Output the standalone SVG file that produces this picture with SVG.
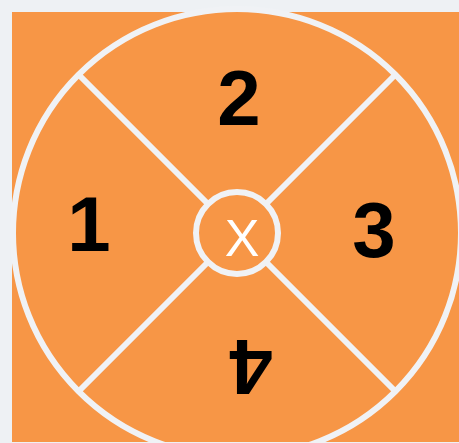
<svg xmlns="http://www.w3.org/2000/svg" width="459" height="443" viewBox="0 0 459 443">
<style>
.ln{stroke:#f0f2f5;stroke-width:6;fill:none}
.num{font-family:"Liberation Sans",Arial,sans-serif;font-weight:bold;font-size:78px;fill:#000;text-anchor:middle}
</style>
<rect x="0" y="0" width="459" height="443" fill="#eef1f4"/>
<rect x="12" y="12" width="447" height="430" fill="#f79646"/>
<g id="connectors">
<line class="ln" x1="78" y1="74" x2="208" y2="204"/>
<line class="ln" x1="396" y1="74" x2="266" y2="204"/>
<line class="ln" x1="78" y1="392" x2="208" y2="262"/>
<line class="ln" x1="396" y1="392" x2="266" y2="262"/>
</g>
<g id="outer"><circle class="ln" cx="237" cy="233" r="224"/></g>
<g id="center"><circle class="ln" cx="237" cy="233" r="41"/>
<text x="242" y="256" font-family="Liberation Sans, Arial, sans-serif" font-size="52" fill="#fff" text-anchor="middle">X</text></g>
<g id="n1"><text class="num" x="89" y="251">1</text></g>
<g id="n2"><text class="num" x="239" y="125">2</text></g>
<g id="n3"><text class="num" x="374" y="257">3</text></g>
<g id="n4"><text class="num" transform="rotate(180 251 368)" x="251" y="396">4</text></g>
</svg>
